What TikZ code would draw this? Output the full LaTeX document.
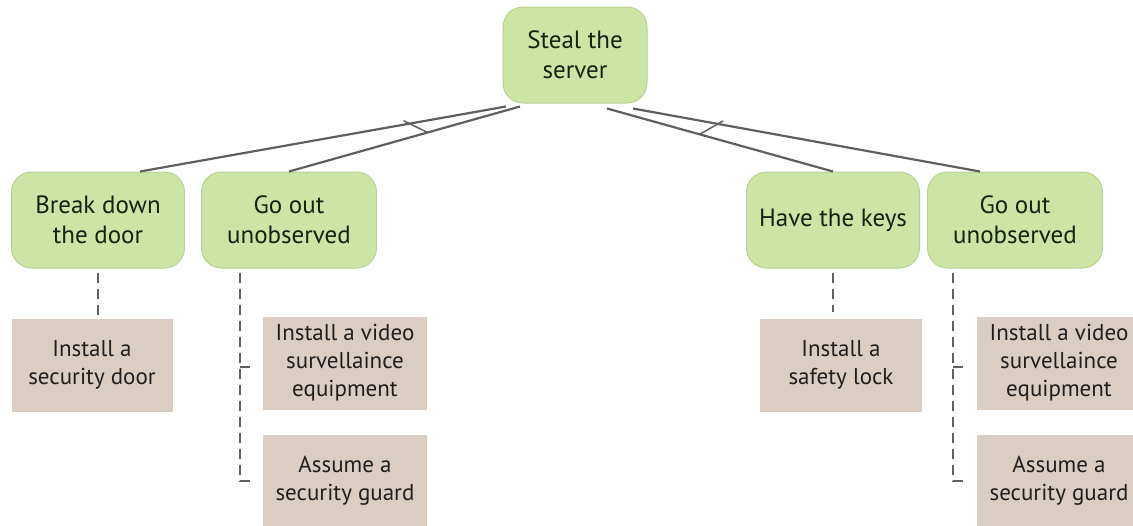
\documentclass[tikz,border=0pt]{standalone}
\usepackage{fontspec}
\setmainfont{PT Sans}
\usepackage{tikz}
\usetikzlibrary{calc}
\definecolor{goalgreen}{RGB}{204,228,164}
\definecolor{goaledge}{RGB}{186,208,150}
\definecolor{goaltext}{RGB}{24,34,16}
\definecolor{measuretan}{RGB}{218,206,196}
\definecolor{linegray}{RGB}{95,95,95}
\tikzset{
	goal/.style={rounded corners=20pt,fill=goalgreen,draw=goaledge,line width=1pt,minimum width=#1,minimum height=96pt,inner sep=0pt,align=center,text=goaltext,font=\fontsize{25}{30}\selectfont},
	measure/.style={fill=measuretan,minimum width=#1,minimum height=93pt,inner sep=0pt,align=center,text=black!88,font=\fontsize{23}{28}\selectfont},
	andline/.style={draw=linegray,line width=2.2pt},
	dline/.style={draw=linegray,line width=2pt,dash pattern=on 10pt off 6pt}
}

\begin{document}
\begin{tikzpicture}[x=1pt,y=-1pt]
	\useasboundingbox (0,0) rectangle (1133,525);

	\node [goal=144pt] (steal) at (575,55) {Steal the\\server};

	\node [goal=173pt] (door) at (98,220) {Break down\\the door};
	\node [goal=175pt] (outl) at (289,220) {Go out\\unobserved};
	\node [goal=173pt] (keys) at (833,220) {Have the keys};
	\node [goal=175pt] (outr) at (1015,220) {Go out\\unobserved};

	\node [measure=161pt] (secdoor) at (92,365) {Install a\\security door};
	\node [measure=164pt] (videol) at (345,363) {Install a video\\survellaince\\equipment};
	\node [measure=164pt] (guardl) at (345,481) {Assume a\\security guard};
	\node [measure=162pt] (lock) at (841,365) {Install a\\safety lock};
	\node [measure=164pt] (videor) at (1059,363) {Install a video\\survellaince\\equipment};
	\node [measure=164pt] (guardr) at (1059,481) {Assume a\\security guard};

	% and-branches
	\coordinate (sa) at ([xshift=-69pt,yshift=-3pt]steal.south);
	\coordinate (sb) at ([xshift=-55pt,yshift=-3pt]steal.south);
	\coordinate (sc) at ([xshift=32pt,yshift=-5pt]steal.south);
	\coordinate (sd) at ([xshift=58pt,yshift=-5pt]steal.south);
	\coordinate (ea) at ([xshift=42pt]door.north);
	\coordinate (eb) at (outl.north);
	\coordinate (ec) at (keys.north);
	\coordinate (ed) at ([xshift=-35pt]outr.north);

	\draw [andline] (sa) -- (ea);
	\draw [andline] (sb) -- (eb);
	\draw [andline] (sc) -- (ec);
	\draw [andline] (sd) -- (ed);
	\draw [andline,line width=1.5pt] ($(sa)!0.28!(ea)$) ++(0,-4) -- ($(sb)!0.40!(eb)$);
	\draw [andline,line width=1.5pt] ($(sd)!0.26!(ed)$) ++(0,-4) -- ($(sc)!0.41!(ec)$);

	% countermeasures
	\draw [dline] ([yshift=-4pt]door.south) -- (door.south |- secdoor.north);
	\draw [dline] ([yshift=-4pt]keys.south) -- ([yshift=6pt]keys.south |- lock.north);

	\coordinate (tl) at ([xshift=-49pt,yshift=-4pt]outl.south);
	\draw [dline] (tl) |- ([xshift=-10pt]guardl.west);
	\draw [dline] (tl |- videol.west) ++(0,4) -- ([xshift=-10pt,yshift=-4pt]videol.west);

	\coordinate (tr) at ([xshift=-62pt,yshift=-4pt]outr.south);
	\draw [dline] (tr) |- ([xshift=-10pt]guardr.west);
	\draw [dline] (tr |- videor.west) ++(0,4) -- ([xshift=-10pt,yshift=-4pt]videor.west);
\end{tikzpicture}
\end{document}
